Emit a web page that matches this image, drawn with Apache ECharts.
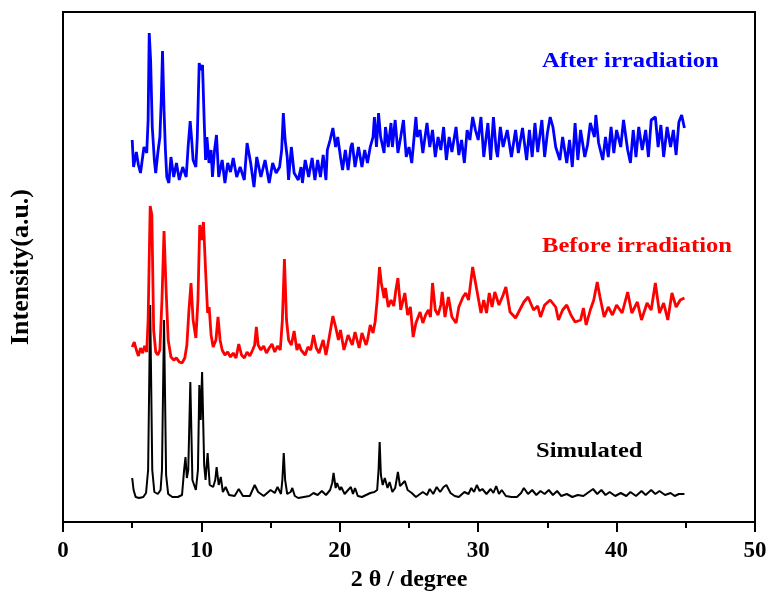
<!DOCTYPE html>
<html>
<head>
<meta charset="utf-8">
<script src="https://cdn.jsdelivr.net/npm/echarts@6/dist/echarts.min.js"></script>
<style>html,body{margin:0;padding:0;background:#fff}#c{width:770px;height:601px}</style>
</head>
<body>
<div id="c"></div>
<script>
// 2θ tick labels
const xTicks = [0, 10, 20, 30, 40, 50];
const seriesNames = ['Simulated', 'Before irradiation', 'After irradiation'];

// Simulated pattern: [2θ, intensity a.u.]
const simulated = [
[5.0,44],[5.1,32],[5.25,25],[5.5,24],[5.8,25],[6.0,29],[6.15,52],[6.3,217],[6.45,52],[6.6,30],
[6.85,28],[7.05,32],[7.15,52],[7.3,202],[7.45,47],[7.6,28],[7.9,25],[8.3,25],[8.6,27],[8.75,52],
[8.85,65],[8.95,44],[9.05,52],[9.2,140],[9.35,42],[9.6,32],[9.75,52],[9.85,137],[9.95,102],[10.05,150],
[10.2,57],[10.3,42],[10.45,69],[10.6,37],[10.85,35],[11.0,42],[11.1,55],[11.25,37],[11.4,45],[11.55,30],
[11.75,35],[12.0,27],[12.4,26],[12.7,33],[13.0,26],[13.5,26],[13.85,37],[14.1,30],[14.5,26],[15.0,32],
[15.3,29],[15.5,35],[15.75,28],[15.85,42],[15.95,69],[16.05,42],[16.2,28],[16.45,30],[16.57,34],[16.75,26],
[17.0,24],[17.4,25],[17.8,26],[18.1,29],[18.4,27],[18.7,31],[19.0,27],[19.3,32],[19.45,39],[19.55,49],
[19.7,34],[19.8,39],[20.0,32],[20.1,35],[20.35,28],[20.6,32],[20.8,35],[20.95,28],[21.1,34],[21.3,26],
[21.6,25],[21.9,27],[22.2,29],[22.5,30],[22.7,32],[22.8,52],[22.88,80],[22.97,47],[23.1,37],[23.25,44],
[23.45,34],[23.6,40],[23.8,30],[24.0,34],[24.1,42],[24.2,50],[24.35,36],[24.5,38],[24.7,41],[24.9,32],
[25.2,29],[25.5,25],[25.8,28],[26.0,30],[26.3,27],[26.5,33],[26.75,28],[27.0,35],[27.25,30],[27.5,35],
[27.7,37],[28.0,29],[28.3,26],[28.6,25],[29.0,30],[29.3,28],[29.5,34],[29.7,30],[29.9,37],[30.1,31],
[30.3,33],[30.6,28],[30.9,33],[31.1,29],[31.3,36],[31.5,28],[31.7,32],[32.0,26],[32.4,25],[32.8,25],
[33.1,29],[33.3,34],[33.6,28],[33.9,32],[34.2,27],[34.5,31],[34.8,28],[35.1,32],[35.4,27],[35.7,31],
[36.0,26],[36.4,28],[36.8,25],[37.2,27],[37.6,26],[38.0,30],[38.3,33],[38.6,28],[38.9,32],[39.2,27],
[39.5,30],[39.9,26],[40.3,29],[40.7,26],[41.0,30],[41.4,26],[41.8,31],[42.1,27],[42.5,32],[42.8,28],
[43.1,31],[43.5,27],[43.9,29],[44.2,26],[44.5,28],[44.9,28]
];

// Before irradiation: [2θ, intensity a.u.]
const before = [
[5.0,175],[5.15,180],[5.3,172],[5.45,166],[5.6,174],[5.75,169],[5.9,176],[6.05,170],[6.15,202],[6.3,316],
[6.42,307],[6.55,192],[6.7,170],[6.85,167],[7.0,172],[7.15,222],[7.3,291],[7.45,232],[7.6,182],[7.8,165],
[8.0,162],[8.2,164],[8.4,160],[8.6,159],[8.8,164],[8.95,177],[9.1,212],[9.25,239],[9.4,202],[9.6,184],
[9.75,222],[9.88,297],[10.0,282],[10.15,300],[10.3,252],[10.45,209],[10.56,215],[10.7,187],[10.85,175],[11.05,182],
[11.2,205],[11.35,182],[11.5,172],[11.7,167],[11.9,170],[12.1,165],[12.3,169],[12.5,164],[12.7,178],[12.9,167],
[13.1,164],[13.3,170],[13.5,166],[13.7,172],[13.85,177],[13.97,195],[14.1,177],[14.3,172],[14.5,176],[14.7,169],
[14.9,174],[15.1,178],[15.3,170],[15.5,176],[15.7,172],[15.85,202],[16.0,263],[16.15,202],[16.3,182],[16.5,177],
[16.7,191],[16.9,172],[17.05,178],[17.2,172],[17.5,167],[17.7,175],[17.9,172],[18.1,187],[18.3,174],[18.5,169],
[18.8,182],[19.0,167],[19.2,182],[19.35,194],[19.5,206],[19.7,195],[19.9,182],[20.05,192],[20.3,172],[20.6,187],
[20.9,177],[21.1,190],[21.4,174],[21.6,189],[21.9,177],[22.0,182],[22.2,197],[22.4,189],[22.55,200],[22.7,222],
[22.87,255],[23.0,239],[23.2,224],[23.3,234],[23.5,215],[23.7,222],[23.9,216],[24.05,232],[24.2,244],[24.4,212],
[24.7,229],[24.9,207],[25.1,215],[25.3,185],[25.5,199],[25.8,210],[26.0,199],[26.2,207],[26.4,212],[26.55,205],
[26.7,239],[26.9,212],[27.1,207],[27.3,217],[27.4,230],[27.6,205],[27.85,225],[28.1,205],[28.4,199],[28.6,215],
[28.9,225],[29.1,229],[29.3,222],[29.6,255],[29.9,232],[30.2,209],[30.4,222],[30.6,209],[30.8,229],[31.0,215],
[31.2,230],[31.5,217],[31.8,227],[32.0,235],[32.3,210],[32.7,204],[33.0,212],[33.3,220],[33.6,225],[34.0,212],
[34.3,216],[34.5,205],[34.8,217],[35.2,222],[35.6,215],[35.8,202],[36.1,212],[36.4,217],[36.7,207],[37.0,200],
[37.4,202],[37.6,214],[37.8,197],[38.1,212],[38.35,222],[38.6,240],[38.8,225],[39.1,205],[39.4,215],[39.7,207],
[40.0,217],[40.4,209],[40.8,230],[41.1,209],[41.5,220],[41.8,202],[42.2,219],[42.5,212],[42.8,239],[43.1,209],
[43.4,219],[43.7,202],[44.0,229],[44.3,215],[44.6,222],[44.9,224]
];

// After irradiation: [2θ, intensity a.u.]
const after = [
[5.0,382],[5.1,355],[5.3,370],[5.45,357],[5.6,349],[5.85,375],[6.05,369],[6.15,402],[6.23,489],[6.33,462],
[6.45,395],[6.6,362],[6.7,349],[6.85,369],[7.0,385],[7.1,422],[7.19,471],[7.3,412],[7.4,372],[7.5,345],
[7.65,339],[7.8,365],[8.0,345],[8.2,359],[8.4,342],[8.65,355],[8.9,345],[9.05,377],[9.19,401],[9.3,382],
[9.4,362],[9.6,355],[9.7,384],[9.84,459],[9.95,452],[10.08,457],[10.2,402],[10.3,362],[10.4,385],[10.55,359],
[10.7,372],[10.8,345],[10.95,372],[11.09,387],[11.25,345],[11.5,362],[11.7,339],[11.9,359],[12.1,350],[12.3,364],
[12.55,345],[12.8,355],[13.1,342],[13.3,379],[13.56,359],[13.8,335],[14.0,365],[14.3,345],[14.6,362],[14.9,339],
[15.15,359],[15.4,349],[15.65,355],[15.8,372],[15.92,409],[16.05,382],[16.2,365],[16.3,342],[16.5,375],[16.7,349],
[17.0,342],[17.2,355],[17.3,339],[17.5,362],[17.75,345],[18.0,364],[18.2,342],[18.4,362],[18.6,345],[18.8,367],
[19.0,342],[19.1,372],[19.3,382],[19.5,394],[19.7,375],[19.85,385],[20.05,365],[20.2,352],[20.4,372],[20.6,352],
[20.8,375],[20.9,379],[21.1,355],[21.35,375],[21.6,355],[21.8,372],[22.0,359],[22.2,375],[22.4,385],[22.5,405],
[22.65,375],[22.8,409],[22.95,385],[23.2,369],[23.3,395],[23.5,375],[23.7,399],[23.8,375],[24.0,402],[24.2,369],
[24.4,385],[24.6,402],[24.8,365],[25.0,375],[25.2,359],[25.5,405],[25.6,385],[25.8,392],[26.0,369],[26.3,399],
[26.5,375],[26.7,392],[26.9,365],[27.1,385],[27.3,372],[27.5,395],[27.7,362],[27.9,385],[28.1,370],[28.4,395],
[28.6,367],[28.8,382],[29.0,359],[29.2,392],[29.4,382],[29.6,405],[29.8,392],[30.0,382],[30.2,405],[30.4,365],
[30.7,399],[30.9,362],[31.1,405],[31.3,372],[31.4,365],[31.6,395],[31.8,375],[32.1,392],[32.4,365],[32.7,392],
[32.9,369],[33.2,394],[33.5,362],[33.7,392],[33.9,365],[34.1,399],[34.3,370],[34.6,402],[34.8,365],[35.0,389],
[35.2,405],[35.4,395],[35.6,375],[35.9,362],[36.1,385],[36.4,359],[36.6,382],[36.8,355],[37.0,399],[37.2,362],
[37.4,392],[37.7,365],[37.9,377],[38.1,399],[38.4,385],[38.5,407],[38.7,379],[39.0,362],[39.2,385],[39.4,365],
[39.6,395],[39.8,369],[40.0,392],[40.3,375],[40.5,402],[40.8,372],[41.0,359],[41.2,392],[41.4,365],[41.6,395],
[41.85,372],[42.1,392],[42.3,365],[42.5,402],[42.8,405],[43.0,375],[43.2,397],[43.4,365],[43.65,395],[43.9,375],
[44.1,392],[44.3,367],[44.5,400],[44.7,407],[44.9,394]
];

const serif = 'Liberation Serif, Times New Roman, serif';
const chart = echarts.init(document.getElementById('c'), null, {renderer: 'canvas'});
chart.setOption({
  animation: false,
  backgroundColor: '#fff',
  grid: {left: 62, right: 15, top: 12, bottom: 79, show: true, borderColor: '#000', borderWidth: 2},
  xAxis: {
    type: 'value', min: 0, max: 50, interval: 10,
    name: '2 θ / degree', nameLocation: 'middle', nameGap: 46,
    nameTextStyle: {fontFamily: serif, fontWeight: 'bold', fontSize: 24, color: '#000'},
    axisLine: {show: true, lineStyle: {color: '#000', width: 2}},
    axisTick: {show: true, inside: false, length: 10, lineStyle: {color: '#000', width: 2}},
    minorTick: {show: true, splitNumber: 2, length: 6, lineStyle: {color: '#000', width: 2}},
    axisLabel: {fontFamily: serif, fontWeight: 'bold', fontSize: 23, color: '#000', margin: 18,
      formatter: v => xTicks.includes(v) ? String(v) : ''},
    splitLine: {show: false}
  },
  yAxis: {
    type: 'value', min: 0, max: 510,
    name: 'Intensity(a.u.)', nameLocation: 'middle', nameGap: 29, nameRotate: 90,
    nameTextStyle: {fontFamily: serif, fontWeight: 'bold', fontSize: 26, color: '#000'},
    axisLine: {show: true, lineStyle: {color: '#000', width: 2}},
    axisTick: {show: false}, axisLabel: {show: false}, splitLine: {show: false}
  },
  series: [
    {name: seriesNames[0], type: 'line', data: simulated, symbol: 'none', lineStyle: {color: '#000', width: 2}, z: 2},
    {name: seriesNames[1], type: 'line', data: before, symbol: 'none', lineStyle: {color: '#ff0000', width: 2.8}, z: 3},
    {name: seriesNames[2], type: 'line', data: after, symbol: 'none', lineStyle: {color: '#0000ff', width: 2.8}, z: 4}
  ],
  graphic: [
    {type: 'text', x: 542, y: 51, scaleX: 1.17, style: {text: seriesNames[2], fill: '#0000ff', font: 'bold 21px ' + serif, textAlign: 'left', textVerticalAlign: 'top'}},
    {type: 'text', x: 542, y: 236, scaleX: 1.17, style: {text: seriesNames[1], fill: '#ff0000', font: 'bold 21px ' + serif, textAlign: 'left', textVerticalAlign: 'top'}},
    {type: 'text', x: 536, y: 441, scaleX: 1.17, style: {text: seriesNames[0], fill: '#000', font: 'bold 21px ' + serif, textAlign: 'left', textVerticalAlign: 'top'}}
  ]
});
</script>
</body>
</html>
